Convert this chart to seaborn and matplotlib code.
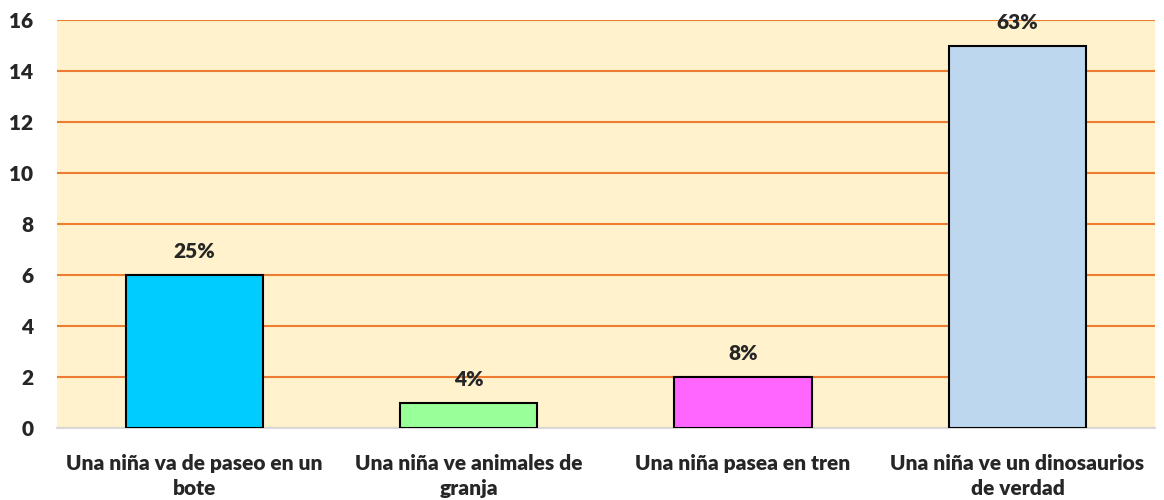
import pandas as pd
import matplotlib.pyplot as plt
import seaborn as sns

# ======================
# Data
# ======================
categories = [
    "Una niña va de paseo en un\nbote",
    "Una niña ve animales de\ngranja",
    "Una niña pasea en tren",
    "Una niña ve un dinosaurios\nde verdad",
]
counts = [6, 1, 2, 15]
pct_labels = ["25%", "4%", "8%", "63%"]
bar_colors = ["#00CCFF", "#99FF99", "#FF66FF", "#BDD7EE"]
y_ticks = [0, 2, 4, 6, 8, 10, 12, 14, 16]

df = pd.DataFrame({"categoria": categories, "cantidad": counts})

sns.set_style("white")
plt.rcParams["font.family"] = ["Lato", "DejaVu Sans"]

fig, ax = plt.subplots(figsize=(11.64, 5), dpi=100)
fig.subplots_adjust(left=0.049, right=0.992, bottom=0.144, top=0.96)

sns.barplot(data=df, x="categoria", y="cantidad", hue="categoria",
            palette=bar_colors, saturation=1, legend=False, width=0.5,
            edgecolor="black", linewidth=1.5, ax=ax, zorder=3)

ax.set_facecolor("#FFF2CC")
ax.set_ylim(0, 16)
ax.set_yticks(y_ticks)
ax.set_xlim(-0.5, 3.5)
ax.yaxis.grid(True, color="#ED7D31", linewidth=1.5, zorder=0)
ax.set_axisbelow(True)
for s in ["top", "right", "left"]:
    ax.spines[s].set_visible(False)
ax.spines["bottom"].set_color("#D9D9D9")
ax.spines["bottom"].set_linewidth(1.5)

ax.set_xlabel("")
ax.set_ylabel("")
ax.tick_params(axis="both", length=0, labelsize=15)
ax.tick_params(axis="x", pad=19)
ax.tick_params(axis="y", pad=17)
for lbl in ax.get_xticklabels() + ax.get_yticklabels():
    lbl.set_fontweight("heavy")
for lbl in ax.get_xticklabels():
    lbl.set_linespacing(1.35)

# percentage labels above bars
for i, (v, t) in enumerate(zip(counts, pct_labels)):
    ax.annotate(t, (i, v), xytext=(0, 10), textcoords="offset points",
                ha="center", va="bottom", fontsize=15, fontweight="heavy")

plt.savefig("out.png")
